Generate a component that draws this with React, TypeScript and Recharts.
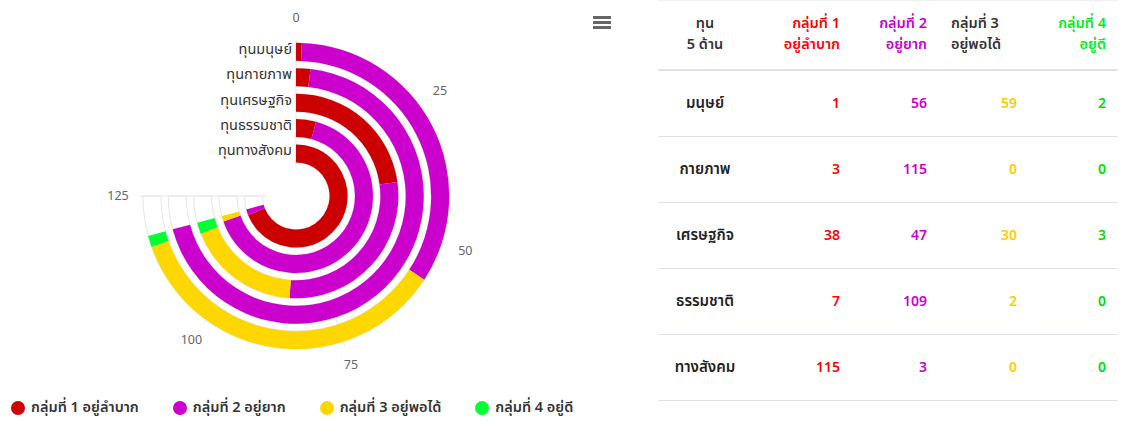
import {
  RadialBarChart, RadialBar, PolarAngleAxis, PolarRadiusAxis, PolarGrid, Legend,
} from 'recharts';

const categories = ['ทุนมนุษย์', 'ทุนกายภาพ', 'ทุนเศรษฐกิจ', 'ทุนธรรมชาติ', 'ทุนทางสังคม'];
const rowLabels  = ['มนุษย์', 'กายภาพ', 'เศรษฐกิจ', 'ธรรมชาติ', 'ทางสังคม'];

const group1 = [1, 3, 38, 7, 115];
const group2 = [56, 115, 47, 109, 3];
const group3 = [59, 0, 30, 2, 0];
const group4 = [2, 0, 3, 0, 0];

const seriesNames = ['กลุ่มที่ 1 อยู่ลำบาก', 'กลุ่มที่ 2 อยู่ยาก', 'กลุ่มที่ 3 อยู่พอได้', 'กลุ่มที่ 4 อยู่ดี'];
const headerTop    = ['กลุ่มที่ 1', 'กลุ่มที่ 2', 'กลุ่มที่ 3', 'กลุ่มที่ 4'];
const headerBottom = ['อยู่ลำบาก', 'อยู่ยาก', 'อยู่พอได้', 'อยู่ดี'];
const angleTicks = [0, 25, 50, 75, 100, 125];

const barColors    = ['#cc0000', '#cc00cc', '#ffd700', '#00ff33'];
const headColors   = ['#ff0000', '#cc00cc', '#333333', '#00ee22'];
const cellColors   = ['#ff0000', '#cc00cc', '#ffcc00', '#00dd00'];

const FONT = "'Noto Sans Thai', 'Noto Sans', Tahoma, sans-serif";

const groups = [group1, group2, group3, group4];
const data = categories.map((name, i) => ({
  name,
  g1: group1[i],
  g2: group2[i],
  g3: group3[i],
  g4: group4[i],
}));
const keys = ['g1', 'g2', 'g3', 'g4'];

const AngleTick = (props: any) => {
  const { x, y, payload } = props;
  return (
    <text x={x} y={y} textAnchor="middle" dominantBaseline="central"
      fill="#666" fontSize={12.5} fontFamily={FONT}>
      {payload.value}
    </text>
  );
};

const RadiusTick = (props: any) => {
  const { x, y, payload } = props;
  return (
    <text x={x - 4} y={y - 2} textAnchor="end" dominantBaseline="central"
      fill="#333" fontSize={14.5} fontFamily={FONT}>
      {payload.value}
    </text>
  );
};

const renderLegend = () => (
  <div style={{ display: 'flex', fontFamily: FONT, fontSize: 14.5, fontWeight: 600, color: '#333' }}>
    {seriesNames.map((n, i) => (
      <div key={n} style={{ display: 'flex', alignItems: 'center', marginRight: 34 }}>
        <span style={{
          width: 14, height: 14, borderRadius: 7, background: barColors[i],
          display: 'inline-block', marginRight: 6,
        }} />
        {n}
      </div>
    ))}
  </div>
);

const cellBase: React.CSSProperties = {
  borderBottom: '1px solid #dee2e6',
  padding: '0 12px',
  height: 65,
  fontWeight: 600,
  fontSize: 14,
};

export default function App() {
  return (
    <div style={{ position: 'absolute', left: 0, top: 0, width: 1125, height: 421, background: '#fff', fontFamily: FONT }}>
      <div style={{ position: 'absolute', left: 0, top: 0 }}>
        <RadialBarChart
          width={640}
          height={421}
          cx={296}
          cy={196}
          innerRadius={30}
          outerRadius={157}
          startAngle={90}
          endAngle={-180}
          data={data}
          barCategoryGap="14%"
        >
          <PolarGrid gridType="circle" polarRadius={[]} stroke="#e6e6e6" />
          <PolarAngleAxis
            type="number"
            domain={[0, 125]}
            ticks={angleTicks}
            axisLine={false}
            tickLine={false}
            tickSize={21}
            tick={<AngleTick />}
          />
          <PolarRadiusAxis
            type="category"
            dataKey="name"
            angle={90}
            reversed
            orientation="left"
            axisLine={false}
            tickLine={false}
            tick={<RadiusTick />}
          />
          {keys.map((k, i) => (
            <RadialBar
              key={k}
              dataKey={k}
              name={seriesNames[i]}
              stackId="a"
              fill={barColors[i]}
              background={i === 0 ? { fill: 'none', stroke: '#e6e6e6' } : false}
              isAnimationActive={false}
            />
          ))}
          <Legend content={renderLegend} verticalAlign="bottom" align="left"
            wrapperStyle={{ left: 11, bottom: 2 }} />
        </RadialBarChart>
      </div>

      {/* menu icon */}
      <svg style={{ position: 'absolute', left: 592, top: 15 }} width={20} height={16}>
        <rect x={1} y={1} width={18} height={3} fill="#666" />
        <rect x={1} y={6} width={18} height={3} fill="#666" />
        <rect x={1} y={11} width={18} height={3} fill="#666" />
      </svg>

      <table style={{
        position: 'absolute', left: 658, top: 0, width: 460,
        borderCollapse: 'collapse', tableLayout: 'fixed', borderTop: '1px solid #eef0f2',
      }}>
        <colgroup>
          <col style={{ width: 94 }} />
          <col style={{ width: 100 }} />
          <col style={{ width: 87 }} />
          <col style={{ width: 90 }} />
          <col style={{ width: 89 }} />
        </colgroup>
        <thead>
          <tr>
            <th style={{ ...cellBase, height: 68, borderBottom: '2px solid #dee2e6', textAlign: 'center', color: '#333', lineHeight: '21px', fontSize: 14.5 }}>
              ทุน<br />5 ด้าน
            </th>
            {headerTop.map((h, i) => (
              <th key={h} style={{
                ...cellBase, height: 68, borderBottom: '2px solid #dee2e6', fontSize: 14.5,
                textAlign: i === 2 ? 'left' : 'right', color: headColors[i], lineHeight: '21px',
              }}>
                {h}<br />{headerBottom[i]}
              </th>
            ))}
          </tr>
        </thead>
        <tbody>
          {rowLabels.map((r, ri) => (
            <tr key={r}>
              <td style={{ ...cellBase, textAlign: 'center', color: '#222', fontSize: 15 }}>{r}</td>
              {groups.map((g, gi) => (
                <td key={gi} style={{ ...cellBase, textAlign: 'right', color: cellColors[gi] }}>{g[ri]}</td>
              ))}
            </tr>
          ))}
        </tbody>
      </table>
    </div>
  );
}
